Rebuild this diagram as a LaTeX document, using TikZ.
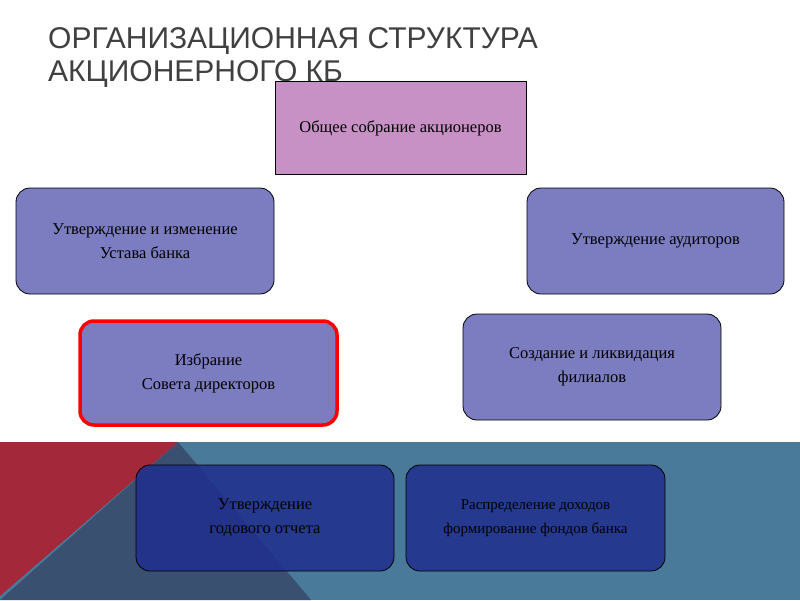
\documentclass[tikz,border=0pt]{standalone}
\usepackage{fontspec}
\setmainfont{Liberation Serif}
\newfontfamily\titlefont{Liberation Sans}
\begin{document}
\begin{tikzpicture}[x=1pt,y=-1pt,
 box/.style={draw=black,line width=0.8pt,rounded corners=14pt,fill=boxc,align=center,font=\fontsize{16.5}{24}\selectfont,inner sep=0pt},
 dbox/.style={box,fill=darkc,fill opacity=0.85,text opacity=1}]
\definecolor{boxc}{HTML}{7B7DC0}
\definecolor{darkc}{HTML}{1F2F8E}
\definecolor{topc}{HTML}{C891C6}
\definecolor{bandc}{HTML}{4A7A9A}
\definecolor{redc}{HTML}{A3283A}
\definecolor{slatec}{HTML}{3A5070}
\useasboundingbox (0,0) rectangle (800,600);
\fill[white] (0,0) rectangle (800,600);
\fill[bandc] (0,442) rectangle (800,600);
\fill[slatec] (178,442) -- (311,600) -- (0,600) -- cycle;
\fill[redc] (0,442) -- (178,442) -- (0,596) -- cycle;
\node[anchor=north west,align=left,text=black!75,font=\titlefont\fontsize{30}{33}\selectfont,inner sep=0pt] (title) at (48,27) {ОРГАНИЗАЦИОННАЯ СТРУКТУРА\\АКЦИОНЕРНОГО КБ};
\node[draw=black,line width=0.6pt,fill=topc,minimum width=251pt,minimum height=93pt,font=\fontsize{16.5}{20}\selectfont] (gen) at (400.5,128) {Общее собрание акционеров};
\node[box,minimum width=258pt,minimum height=106pt] (ust) at (145,241) {Утверждение и изменение\\Устава банка};
\node[box,minimum width=257pt,minimum height=106pt] (aud) at (655.5,241) {Утверждение аудиторов};
\node[box,draw=red,line width=3.5pt,minimum width=257pt,minimum height=104pt] (sov) at (208.5,373) {Избрание\\Совета директоров};
\node[box,minimum width=258pt,minimum height=106pt] (fil) at (592,367) {Создание и ликвидация\\филиалов};
\node[dbox,minimum width=258pt,minimum height=106pt] (god) at (265,518) {Утверждение\\годового  отчета};
\node[dbox,minimum width=259pt,minimum height=106pt,font=\fontsize{15}{24}\selectfont] (fond) at (535.5,518) {Распределение доходов\\формирование фондов банка};
\end{tikzpicture}
\end{document}
